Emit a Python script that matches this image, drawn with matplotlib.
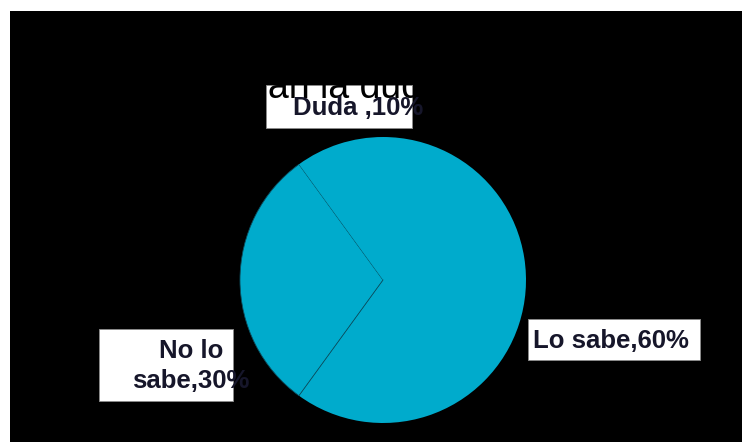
import matplotlib.pyplot as plt
from matplotlib.patches import Rectangle

plt.rcParams["font.family"] = ["Liberation Sans", "DejaVu Sans"]

W, H = 743, 443

title = "¿Cómo evalúan la duda?"
categories = ["Lo sabe", "No lo sabe", "Duda"]
values = [60, 30, 10]
labels = ["Lo sabe,60%", "No lo\nsabe,30%", "Duda ,10%"]

slice_color = "#00abcc"
edge_color = "#0b4f60"
text_color = "#16162a"


def fx(px):
    return px / W


def fy(py):
    return (H - py) / H


fig = plt.figure(figsize=(W / 100, H / 100), dpi=100)
fig.patch.set_facecolor("white")

# black slide background
fig.patches.append(Rectangle((fx(10), fy(442)), fx(732), 431 / H,
                             transform=fig.transFigure, facecolor="black",
                             edgecolor="none", zorder=-1))

# pie, centre (383, 280), radius 143 px
cx, cy, r = 383, 280, 143
ax = fig.add_axes([fx(cx - r), fy(cy + r), 2 * r / W, 2 * r / H])
ax.set_zorder(0.5)
wedges, _ = ax.pie(values, startangle=90, counterclock=False,
                   colors=[slice_color] * len(values),
                   wedgeprops=dict(edgecolor="none"))
wedges[1].set_edgecolor(edge_color)
wedges[1].set_linewidth(0.6)
ax.set_xlim(-1, 1)
ax.set_ylim(-1, 1)
ax.set_aspect("equal")
ax.axis("off")

# white label boxes (left, top, right, bottom in px)
boxes = [(528, 319, 700, 360), (99, 329, 233, 401), (266, 85, 412, 128)]
for x0, y0, x1, y1 in boxes:
    fig.patches.append(Rectangle((fx(x0), fy(y1)), fx(x1 - x0), (y1 - y0) / H,
                                 transform=fig.transFigure, facecolor="white",
                                 edgecolor="#8a8a8a", linewidth=0.7, zorder=1))

label_kw = dict(fontsize=18.5, fontweight="bold", color=text_color, zorder=3)
fig.text(fx(533), fy(348), labels[0], ha="left", va="baseline", **label_kw)
fig.text(fx(191), fy(388), labels[1], ha="center", va="baseline",
         multialignment="center", linespacing=1.3, **label_kw)
fig.text(fx(293), fy(115), labels[2], ha="left", va="baseline", **label_kw)

# black title, only visible where it crosses the white box
renderer = fig.canvas.get_renderer()
prefix = title[:title.index("an la")]
probe = fig.text(0, 0, prefix, fontsize=27)
shift = probe.get_window_extent(renderer).width
probe.remove()
fig.text(fx(268 - shift), fy(98), title, ha="left", va="baseline",
         fontsize=27, color="black", zorder=2)

fig.savefig("out.png", dpi=100, facecolor="white")
